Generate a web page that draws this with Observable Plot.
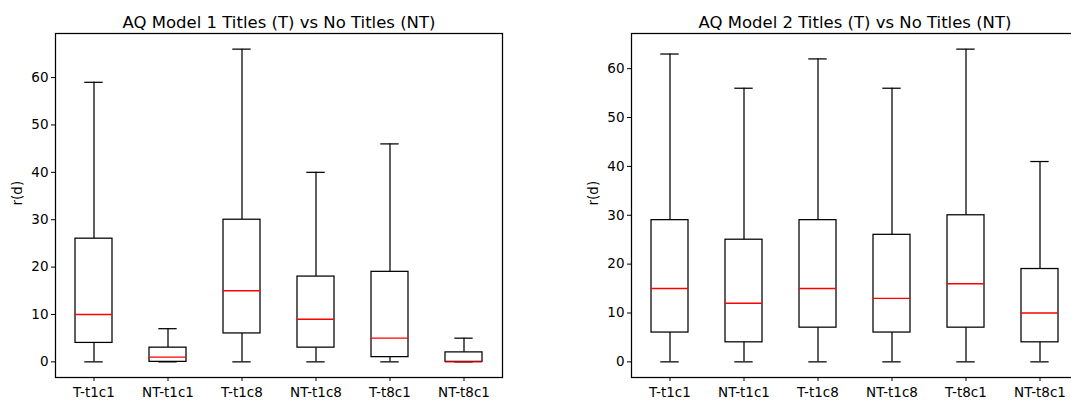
<!DOCTYPE html>
<html>
<head>
<meta charset="utf-8">
<script src="https://cdn.jsdelivr.net/npm/d3@7"></script>
<script src="https://cdn.jsdelivr.net/npm/@observablehq/plot@0.6"></script>
<style>
  html, body { margin: 0; padding: 0; background: white; overflow: hidden; width: 1071px; height: 404px; }
  #wrap { position: relative; width: 1071px; height: 404px; overflow: hidden; }
  #wrap > div { position: absolute; top: 0; }
  #wrap svg { max-width: none !important; }
</style>
</head>
<body>
<div id="wrap"><div id="c1"></div><div id="c2"></div></div>
<script>
const categories = ["T-t1c1", "NT-t1c1", "T-t1c8", "NT-t1c8", "T-t8c1", "NT-t8c1"];
const yTicks = [0, 10, 20, 30, 40, 50, 60];

const title1 = "AQ Model 1 Titles (T) vs No Titles (NT)";
const m1Low  = [0, 0, 0, 0, 0, 0];
const m1Q1   = [4, 0, 6, 3, 1, 0];
const m1Med  = [10, 1, 15, 9, 5, 0];
const m1Q3   = [26, 3, 30, 18, 19, 2];
const m1High = [59, 7, 66, 40, 46, 5];

const title2 = "AQ Model 2 Titles (T) vs No Titles (NT)";
const m2Low  = [0, 0, 0, 0, 0, 0];
const m2Q1   = [6, 4, 7, 6, 7, 4];
const m2Med  = [15, 12, 15, 13, 16, 10];
const m2Q3   = [29, 25, 29, 26, 30, 19];
const m2High = [63, 56, 62, 56, 64, 41];

function rows(low, q1, med, q3, high) {
  return categories.map((c, i) => ({cat: c, low: low[i], q1: q1[i], med: med[i], q3: q3[i], high: high[i]}));
}

function chart({data, title, width, marginLeft, marginRight, yDomain}) {
  const sw = 1.25;
  return Plot.plot({
    width, height: 404,
    marginTop: 33, marginBottom: 27, marginLeft, marginRight,
    style: {fontFamily: "DejaVu Sans", fontSize: "13.5px", color: "#000", background: "white", overflow: "visible", maxWidth: "none"},
    x: {type: "band", domain: categories, paddingInner: 0.5, paddingOuter: 0.25, label: null},
    y: {domain: yDomain, label: null},
    marks: [
      Plot.axisX({tickSize: 4, tickPadding: 6, fontSize: 13.5, label: null}),
      Plot.axisY({ticks: yTicks, tickSize: 4, tickPadding: 3, fontSize: 13.5, label: null}),
      Plot.ruleX(data, {x: "cat", y1: "low", y2: "q1", stroke: "black", strokeWidth: sw}),
      Plot.ruleX(data, {x: "cat", y1: "q3", y2: "high", stroke: "black", strokeWidth: sw}),
      Plot.tickY(data, {x: "cat", y: "low", stroke: "black", strokeWidth: sw, insetLeft: 9.3, insetRight: 9.3}),
      Plot.tickY(data, {x: "cat", y: "high", stroke: "black", strokeWidth: sw, insetLeft: 9.3, insetRight: 9.3}),
      Plot.barY(data, {x: "cat", y1: "q1", y2: "q3", fill: "white", stroke: "black", strokeWidth: sw}),
      Plot.tickY(data, {x: "cat", y: "med", stroke: "#ff0000", strokeWidth: 1.4}),
      Plot.frame({stroke: "black", strokeWidth: sw}),
      Plot.text(["r(d)"], {frameAnchor: "left", dx: -38, rotate: -90, fontSize: 13.5, fill: "black"}),
      Plot.text([title], {frameAnchor: "top", dy: -17, fontSize: 16.5, fill: "black"})
    ]
  });
}

const c1 = document.getElementById("c1");
c1.style.left = "0px";
c1.appendChild(chart({
  data: rows(m1Low, m1Q1, m1Med, m1Q3, m1High),
  title: title1, width: 535, marginLeft: 55, marginRight: 33,
  yDomain: [-3.3, 69.3]
}));

const c2 = document.getElementById("c2");
c2.style.left = "535px";
c2.appendChild(chart({
  data: rows(m2Low, m2Q1, m2Med, m2Q3, m2High),
  title: title2, width: 560, marginLeft: 96, marginRight: 17,
  yDomain: [-3.2, 67.2]
}));
</script>
</body>
</html>
